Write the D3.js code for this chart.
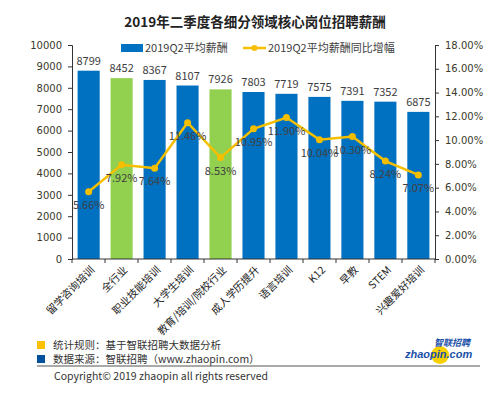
<!DOCTYPE html>
<html>
<head>
<meta charset="utf-8">
<script src="https://cdn.jsdelivr.net/npm/d3@7"></script>
<style>
  body { margin: 0; background: #fff; }
  svg { font-family: "Microsoft YaHei", "Noto Sans CJK SC", sans-serif; }
</style>
</head>
<body>
<svg id="chart" width="500" height="395"></svg>
<script>
const categories = ["留学咨询培训", "全行业", "职业技能培训", "大学生培训", "教育/培训/院校行业",
    "成人学历提升", "语言培训", "K12", "早教", "STEM", "兴趣爱好培训"];
const salary = [8799, 8452, 8367, 8107, 7926, 7803, 7719, 7575, 7391, 7352, 6875];
const growth = [5.66, 7.92, 7.64, 11.46, 8.53, 10.95, 11.90, 10.04, 10.30, 8.24, 7.07];
const highlighted = ["全行业", "教育/培训/院校行业"];
const leftTicks = [0, 1000, 2000, 3000, 4000, 5000, 6000, 7000, 8000, 9000, 10000];
const rightTicks = [0, 2, 4, 6, 8, 10, 12, 14, 16, 18];

const blue = "#0070C0", green = "#92D050", gold = "#F5BF00", txt = "#404040";

const svg = d3.select("#chart");
const plotLeft = 72, plotRight = 435, plotTop = 45, plotBottom = 259;

const x = d3.scaleBand().domain(categories).range([plotLeft, plotRight]).paddingInner(0.33).paddingOuter(0.17);
const y = d3.scaleLinear().domain([0, 10000]).range([plotBottom, plotTop]);
const y2 = d3.scaleLinear().domain([0, 18]).range([plotBottom, plotTop]);

// title
svg.append("text")
    .attr("x", 255).attr("y", 27)
    .attr("text-anchor", "middle")
    .attr("font-size", 13.5).attr("font-weight", "bold").attr("fill", "#222")
    .text("2019年二季度各细分领域核心岗位招聘薪酬");

// bars
svg.selectAll("rect.bar")
    .data(categories)
    .enter().append("rect")
    .attr("class", "bar")
    .attr("x", d => x(d))
    .attr("width", x.bandwidth())
    .attr("y", (d, i) => y(salary[i]))
    .attr("height", (d, i) => plotBottom - y(salary[i]))
    .attr("fill", d => highlighted.includes(d) ? green : blue);

svg.selectAll("text.barval")
    .data(categories)
    .enter().append("text")
    .attr("x", d => x(d) + x.bandwidth() / 2)
    .attr("y", (d, i) => y(salary[i]) - 6)
    .attr("text-anchor", "middle")
    .attr("font-size", 11).attr("fill", txt)
    .text((d, i) => salary[i]);

// axes
const ax = svg.append("g")
    .attr("transform", `translate(${plotLeft},0)`)
    .call(d3.axisLeft(y).tickValues(leftTicks).tickSize(4).tickPadding(6).tickFormat(d3.format("d")));
const ax2 = svg.append("g")
    .attr("transform", `translate(${plotRight},0)`)
    .call(d3.axisRight(y2).tickValues(rightTicks).tickSize(4).tickPadding(6).tickFormat(d => d.toFixed(2) + "%"));
[ax, ax2].forEach(g => {
    g.select(".domain").attr("stroke", "#333");
    g.selectAll(".tick line").attr("stroke", "#333");
    g.selectAll("text").attr("fill", "#3a3a2a")
        .attr("font-family", "Verdana, 'DejaVu Sans', sans-serif").style("font-size", "10px");
});

const xa = svg.append("g").attr("transform", `translate(0,${plotBottom})`);
xa.append("line").attr("x1", plotLeft).attr("x2", plotRight).attr("stroke", "#333");
xa.selectAll("line.tk")
    .data(d3.range(categories.length + 1))
    .enter().append("line")
    .attr("x1", i => plotLeft + i * (plotRight - plotLeft) / categories.length)
    .attr("x2", i => plotLeft + i * (plotRight - plotLeft) / categories.length)
    .attr("y1", 0).attr("y2", 4).attr("stroke", "#333");
xa.selectAll("text")
    .data(categories)
    .enter().append("text")
    .attr("transform", d => `translate(${x(d) + x.bandwidth() / 2 + 4},9) rotate(-45)`)
    .attr("text-anchor", "end")
    .attr("dy", "0.35em")
    .attr("font-size", 10.5).attr("fill", "#222")
    .text(d => d);

// line series
const line = d3.line()
    .x((d, i) => x(categories[i]) + x.bandwidth() / 2)
    .y(d => y2(d));
svg.append("path")
    .datum(growth)
    .attr("d", line)
    .attr("fill", "none").attr("stroke", gold).attr("stroke-width", 2.5);
svg.selectAll("circle.pt")
    .data(growth)
    .enter().append("circle")
    .attr("cx", (d, i) => x(categories[i]) + x.bandwidth() / 2)
    .attr("cy", d => y2(d))
    .attr("r", 3.5).attr("fill", gold);
svg.selectAll("text.pct")
    .data(growth)
    .enter().append("text")
    .attr("x", (d, i) => x(categories[i]) + x.bandwidth() / 2)
    .attr("y", d => y2(d) + 17)
    .attr("text-anchor", "middle")
    .attr("font-size", 11).attr("fill", txt)
    .text(d => d.toFixed(2) + "%");

// legend
const lg = svg.append("g").attr("font-size", 11).attr("fill", txt);
lg.append("rect").attr("x", 121).attr("y", 44).attr("width", 22).attr("height", 8).attr("fill", blue);
lg.append("text").attr("x", 145).attr("y", 52).attr("fill", txt).text("2019Q2平均薪酬");
lg.append("line").attr("x1", 243).attr("x2", 266).attr("y1", 48).attr("y2", 48).attr("stroke", gold).attr("stroke-width", 2.5);
lg.append("circle").attr("cx", 254.5).attr("cy", 48).attr("r", 3).attr("fill", gold);
lg.append("text").attr("x", 268).attr("y", 52).attr("fill", txt).text("2019Q2平均薪酬同比增幅");

// footer notes
const ft = svg.append("g").attr("font-size", 10.5).attr("fill", "#333");
ft.append("rect").attr("x", 37).attr("y", 341).attr("width", 8).attr("height", 8).attr("fill", "#FFC000");
ft.append("text").attr("x", 53).attr("y", 349).text("统计规则：基于智联招聘大数据分析");
ft.append("rect").attr("x", 37).attr("y", 355).attr("width", 8).attr("height", 8).attr("fill", "#0050A0");
ft.append("text").attr("x", 53).attr("y", 363).text("数据来源：智联招聘（www.zhaopin.com）");
svg.append("line").attr("x1", 37).attr("x2", 480).attr("y1", 366).attr("y2", 366).attr("stroke", "#555").attr("stroke-width", 1);
svg.append("text").attr("x", 54).attr("y", 380).attr("font-size", 10.5).attr("fill", "#333")
    .text("Copyright\u00a9 2019 zhaopin all rights reserved");

// logo
const logo = svg.append("g");
logo.append("circle").attr("cx", 440).attr("cy", 355).attr("r", 9).attr("fill", "#F8D000");
logo.append("text").attr("x", 434).attr("y", 346).attr("font-size", 9).attr("font-weight", "bold")
    .attr("fill", "#1a4fa8").attr("font-style", "italic").text("智联招聘");
logo.append("text").attr("x", 405).attr("y", 358).attr("font-size", 11).attr("font-weight", "bold")
    .attr("font-family", "Arial, 'Liberation Sans', sans-serif")
    .attr("fill", "#1a4fa8").attr("font-style", "italic").text("zhaopin.com");
</script>
</body>
</html>
